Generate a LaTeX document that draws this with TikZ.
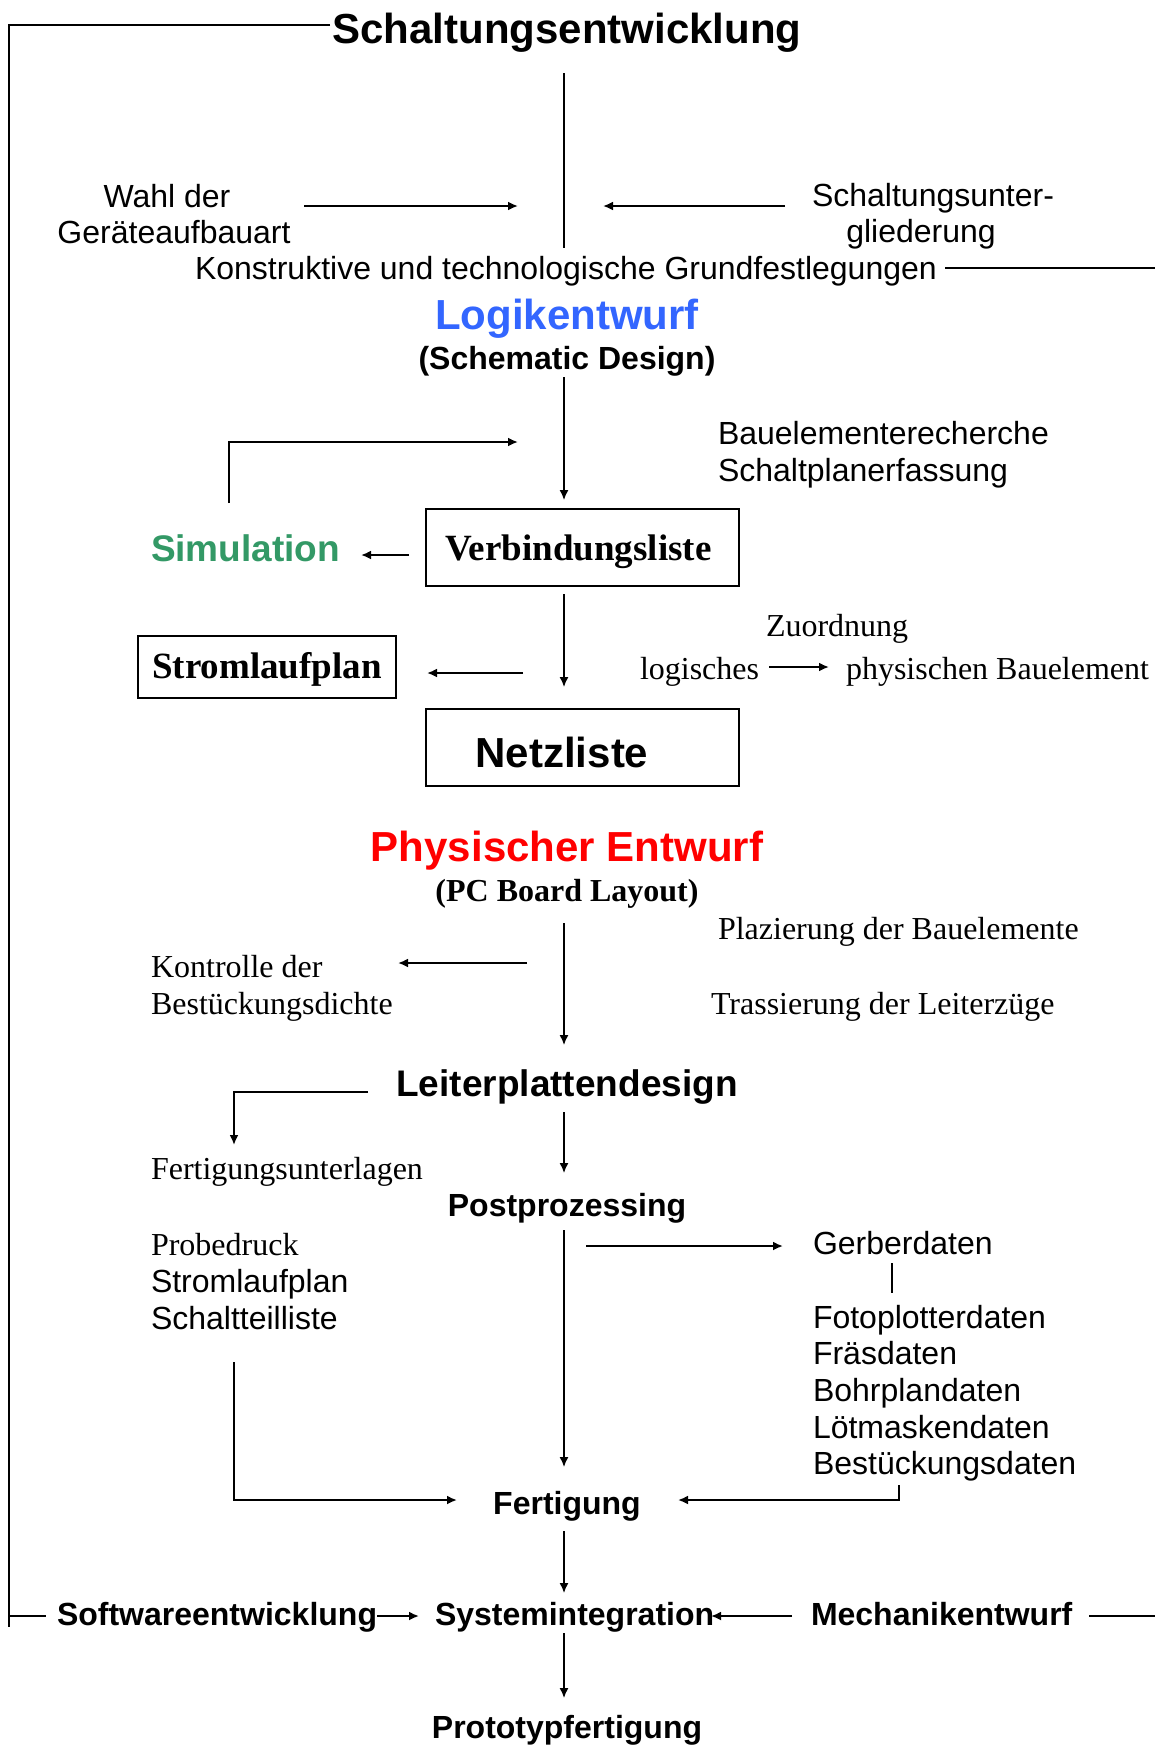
\documentclass[tikz,border=0pt]{standalone}
\usepackage{fontspec}
\setmainfont{Liberation Serif}
\setsansfont{Liberation Sans}
\usetikzlibrary{arrows.meta}
\definecolor{logblue}{HTML}{3366FF}
\definecolor{simgreen}{HTML}{339966}
\definecolor{phyred}{HTML}{FF0000}
\begin{document}
\begin{tikzpicture}[x=0.5pt,y=-0.5pt,
  txt/.style={inner sep=0pt,outer sep=0pt},
  hugesf/.style={txt,font=\sffamily\bfseries\fontsize{21}{25}\selectfont},
  bigsf/.style={txt,font=\sffamily\bfseries\fontsize{18.5}{22}\selectfont},
  medsfb/.style={txt,font=\sffamily\bfseries\fontsize{16}{19}\selectfont},
  medsf/.style={txt,font=\sffamily\fontsize{16}{19}\selectfont},
  medrm/.style={txt,font=\rmfamily\fontsize{16}{19}\selectfont},
  medrmb/.style={txt,font=\rmfamily\bfseries\fontsize{16}{19}\selectfont},
  bigrmb/.style={font=\rmfamily\bfseries\fontsize{18.5}{22}\selectfont},
  boxed/.style={draw,line width=1pt,inner sep=0pt},
  flow/.style={line width=0.75pt,-{Latex[length=5pt,width=4.5pt]}},
  side/.style={line width=1.2pt,-{Latex[length=5pt,width=4.5pt]}},
  plainline/.style={line width=0.75pt},
  thickline/.style={line width=1.1pt},
]
\path[use as bounding box,fill=white] (0,0) rectangle (1155,1746);

% ---------- texts ----------
\node[hugesf,anchor=base] (title) at (567,43) {Schaltungsentwicklung};
\node[medsf,anchor=base] (wahl1) at (167,207) {Wahl der};
\node[medsf,anchor=base] (wahl2) at (174,243) {Geräteaufbauart};
\node[medsf,anchor=base] (sug1) at (933,206) {Schaltungsunter-};
\node[medsf,anchor=base] (sug2) at (921,242) {gliederung};
\node[medsf,anchor=base west] (konst) at (195,279) {Konstruktive und technologische Grundfestlegungen};

\node[hugesf,anchor=base,text=logblue] (logik) at (567,329) {Logikentwurf};
\node[medsfb,anchor=base] (schem) at (567,369) {(Schematic Design)};
\node[medsf,anchor=base west] (baurech) at (718,444) {Bauelementerecherche};
\node[medsf,anchor=base west] (schaltpl) at (718,481) {Schaltplanerfassung};
\node[bigsf,anchor=base west,text=simgreen] (sim) at (151,561) {Simulation};
\node[boxed,bigrmb,minimum width=156.5pt,minimum height=38.5pt,text height=14.5pt,text depth=2pt] (verb) at (582.5,547.5) {Verbindungsliste\hspace*{4pt}};
\node[medrm,anchor=base west] (zuord) at (766,636) {Zuordnung};
\node[medrm,anchor=base west] (logi) at (640,679) {logisches};
\node[medrm,anchor=base west] (phys) at (846,679) {physischen Bauelement};
\node[boxed,bigrmb,minimum width=129pt,minimum height=31pt,text height=13pt,text depth=2pt] (strom) at (267,667) {Stromlaufplan};
\node[boxed,font=\sffamily\bfseries\fontsize{21}{25}\selectfont,minimum width=156.5pt,minimum height=38.5pt,text height=19.5pt,text depth=0pt] (netz) at (582.5,747.5) {Netzliste\hspace*{20.5pt}};

\node[hugesf,anchor=base,text=phyred] (physent) at (567,861) {Physischer Entwurf};
\node[medrmb,anchor=base] (pcb) at (567,901) {(PC Board Layout)};
\node[medrm,anchor=base west] (plaz) at (718,939) {Plazierung der Bauelemente};
\node[medrm,anchor=base west] (kontr1) at (151,977) {Kontrolle der};
\node[medrm,anchor=base west] (kontr2) at (151,1014) {Bestückungsdichte};
\node[medrm,anchor=base west] (trass) at (711,1014) {Trassierung der Leiterzüge};
\node[bigsf,anchor=base] (lpd) at (567,1096) {Leiterplattendesign};
\node[medrm,anchor=base west] (fertu) at (151,1179) {Fertigungsunterlagen};
\node[medsfb,anchor=base] (post) at (567,1216) {Postprozessing};
\node[medrm,anchor=base west] (probe) at (151,1255) {Probedruck};
\node[medsf,anchor=base west] (slp) at (151,1292) {Stromlaufplan};
\node[medsf,anchor=base west] (stl) at (151,1329) {Schaltteilliste};
\node[medsf,anchor=base west] (gerber) at (813,1254) {Gerberdaten};
\node[medsf,anchor=base west] (foto) at (813,1328) {Fotoplotterdaten};
\node[medsf,anchor=base west] (fraes) at (813,1364) {Fräsdaten};
\node[medsf,anchor=base west] (bohr) at (813,1401) {Bohrplandaten};
\node[medsf,anchor=base west] (loet) at (813,1438) {Lötmaskendaten};
\node[medsf,anchor=base west] (best) at (813,1474) {Bestückungsdaten};
\node[medsfb,anchor=base] (fert) at (567,1514) {Fertigung};
\node[medsfb,anchor=base west] (soft) at (57,1625) {Softwareentwicklung};
\node[medsfb,anchor=base west] (sysint) at (435,1625) {Systemintegration};
\node[medsfb,anchor=base west] (mech) at (811,1625) {Mechanikentwurf};
\node[medsfb,anchor=base] (proto) at (567,1738) {Prototypfertigung};

% ---------- coordinates ----------
\coordinate (tl0) at (330,25);
\coordinate (tl1) at (9,25);
\coordinate (tl2) at (9,1627);
\coordinate (tj) at (9,1616);
\coordinate (tje) at (46,1616);
\coordinate (v1a) at (564,73);
\coordinate (v1b) at (564,248);
\coordinate (aw1) at (304,206);
\coordinate (aw2) at (518,206);
\coordinate (as1) at (785,206);
\coordinate (as2) at (603,206);
\coordinate (kr1) at (945,268);
\coordinate (kr2) at (1155,268);
\coordinate (v2a) at (564,377);
\coordinate (v2b) at (564,500);
\coordinate (lp1) at (229,503);
\coordinate (lp2) at (229,442);
\coordinate (lp3) at (518,442);
\coordinate (sa1) at (409,555);
\coordinate (sa2) at (361,555);
\coordinate (v3a) at (564,594);
\coordinate (v3b) at (564,687);
\coordinate (za1) at (769,667);
\coordinate (za2) at (829,667);
\coordinate (st1) at (523,673);
\coordinate (st2) at (427,673);
\coordinate (v4a) at (564,923);
\coordinate (v4b) at (564,1045);
\coordinate (ka1) at (527,963);
\coordinate (ka2) at (398,963);
\coordinate (fu1) at (368,1092);
\coordinate (fu2) at (234,1092);
\coordinate (fu3) at (234,1145);
\coordinate (v5a) at (564,1112);
\coordinate (v5b) at (564,1173);
\coordinate (v6a) at (564,1230);
\coordinate (v6b) at (564,1467);
\coordinate (ga1) at (586,1246);
\coordinate (ga2) at (783,1246);
\coordinate (gl1) at (892,1263);
\coordinate (gl2) at (892,1293);
\coordinate (ll1) at (234,1362);
\coordinate (ll2) at (234,1500);
\coordinate (ll3) at (457,1500);
\coordinate (rl1) at (899,1485);
\coordinate (rl2) at (899,1500);
\coordinate (rl3) at (678,1500);
\coordinate (v7a) at (564,1531);
\coordinate (v7b) at (564,1593);
\coordinate (sw1) at (377,1616);
\coordinate (sw2) at (419,1616);
\coordinate (me1) at (792,1616);
\coordinate (me2) at (711,1616);
\coordinate (mr1) at (1089,1616);
\coordinate (mr2) at (1155,1616);
\coordinate (v8a) at (564,1633);
\coordinate (v8b) at (564,1698);

% ---------- connectors ----------
\draw[thickline] (tl0) -- (tl1) -- (tl2);
\draw[thickline] (tj) -- (tje);
\draw[plainline] (v1a) -- (v1b);
\draw[side] (aw1) -- (aw2);
\draw[side] (as1) -- (as2);
\draw[thickline] (kr1) -- (kr2);
\draw[flow] (v2a) -- (v2b);
\draw[side] (lp1) -- (lp2) -- (lp3);
\draw[side] (sa1) -- (sa2);
\draw[flow] (v3a) -- (v3b);
\draw[side] (za1) -- (za2);
\draw[side] (st1) -- (st2);
\draw[flow] (v4a) -- (v4b);
\draw[side] (ka1) -- (ka2);
\draw[side] (fu1) -- (fu2) -- (fu3);
\draw[flow] (v5a) -- (v5b);
\draw[flow] (v6a) -- (v6b);
\draw[side] (ga1) -- (ga2);
\draw[plainline] (gl1) -- (gl2);
\draw[side] (ll1) -- (ll2) -- (ll3);
\draw[side] (rl1) -- (rl2) -- (rl3);
\draw[flow] (v7a) -- (v7b);
\draw[side] (sw1) -- (sw2);
\draw[side] (me1) -- (me2);
\draw[thickline] (mr1) -- (mr2);
\draw[flow] (v8a) -- (v8b);
\end{tikzpicture}
\end{document}
